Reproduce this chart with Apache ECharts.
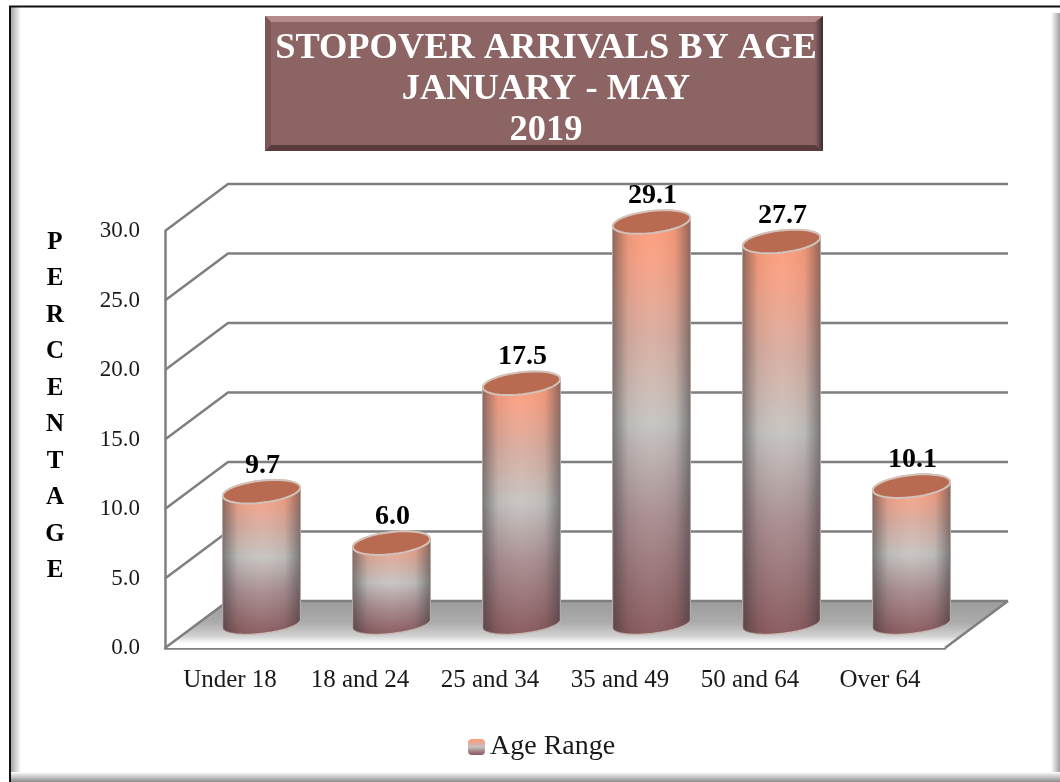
<!DOCTYPE html>
<html>
<head>
<meta charset="utf-8">
<style>html,body{margin:0;padding:0;background:#fff}#chart{width:1060px;height:782px}</style>
<script src="https://cdn.jsdelivr.net/npm/echarts@6/dist/echarts.min.js"></script>
</head>
<body>
<div id="chart"></div>
<script>
var categories = ["Under 18", "18 and 24", "25 and 34", "35 and 49", "50 and 64", "Over 64"];
var values = [9.7, 6.0, 17.5, 29.1, 27.7, 10.1];
var yTicks = [0, 5, 10, 15, 20, 25, 30];
var seriesName = "Age Range";
var titleLines = ["STOPOVER ARRIVALS BY AGE", "JANUARY - MAY", "2019"];
var axisLetters = ["P", "E", "R", "C", "E", "N", "T", "A", "G", "E"];

var FONT = "'Liberation Serif', serif";
// depth of the fake 3d box, in pixels
var DX = 63, DY = -47;

function grad(x, y, x2, y2, stops) {
	return new echarts.graphic.LinearGradient(x, y, x2, y2, stops.map(function(s){
		return {offset: s[0], color: s[1]};
	}));
}
var bodyStops = [[0, "#ff9a75"], [0.12, "#f9a184"], [0.3, "#d9ada0"], [0.5, "#c6c4c1"], [0.72, "#a98d90"], [1, "#87575b"]];
var sideStops = [[0, "rgba(45,45,50,0.5)"], [0.2, "rgba(60,60,60,0.08)"], [0.5, "rgba(255,255,255,0.04)"], [0.8, "rgba(60,60,60,0.08)"], [1, "rgba(45,45,50,0.5)"]];

// points on a tilted ellipse between two angles
function arc(cx, cy, rx, ry, from, to) {
	var tilt = -0.115, pts = [];
	for (var i = 0; i <= 40; i++) {
		var t = from + (to - from) * i / 40;
		var px = rx * Math.cos(t), py = ry * Math.sin(t);
		pts.push([cx + px * Math.cos(tilt) - py * Math.sin(tilt), cy + px * Math.sin(tilt) + py * Math.cos(tilt)]);
	}
	return pts;
}

function renderWall(params, api) {
	var cs = params.coordSys;
	var y = api.coord([0, api.value(1)])[1];
	var x0 = cs.x, x1 = cs.x + cs.width;
	var line = {stroke: "#7f7f7f", lineWidth: 2.5, fill: null};
	var kids = [{
		type: "polyline",
		shape: {points: [[x0, y], [x0 + DX, y + DY], [x1 + DX, y + DY]]},
		style: line
	}];
	if (api.value(1) === 0) {
		kids.unshift({
			type: "polygon",
			shape: {points: [[x0, y], [x0 + DX, y + DY], [x1 + DX, y + DY], [x1, y]]},
			style: {fill: grad(0, 0, 0, 1, [[0, "#9c9c9c"], [0.45, "#ababab"], [0.75, "#d2d2d2"], [0.9, "#ffffff"], [1, "#ffffff"]])}
		});
		kids.push({
			type: "polyline",
			shape: {points: [[x1, y], [x1 + DX, y + DY]]},
			style: line
		});
	}
	return {type: "group", children: kids};
}

function renderBar(params, api) {
	var idx = api.value(0), val = api.value(1);
	var rx = api.size([1, 0])[0] * 0.3;
	var top = api.coord([idx, val]), bottom = api.coord([idx, 0]);
	var cx = top[0] + DX / 2;
	var topY = top[1] + DY / 2 + 2, botY = bottom[1] + DY / 2 - 1;
	var body = arc(cx, botY, rx, 10, Math.PI, 0).concat(arc(cx, topY, rx, 11, 0, -Math.PI));
	return {
		type: "group",
		children: [{
			type: "polygon",
			shape: {points: body},
			style: {fill: grad(0, 0, 0, 1, bodyStops), stroke: "#c9b8b0", lineWidth: 1.5}
		}, {
			type: "polygon",
			shape: {points: body},
			style: {fill: grad(0, 0, 1, 0, sideStops)}
		}, {
			type: "polygon",
			shape: {points: arc(cx, topY, rx, 11, 0, Math.PI * 2)},
			style: {fill: "#b86b50", stroke: "#d2c2ba", lineWidth: 2}
		}, {
			type: "text",
			x: cx + 1,
			y: topY - 26,
			style: {
				text: val.toFixed(1),
				font: "bold 28px " + FONT,
				fill: "#000",
				align: "center",
				verticalAlign: "middle"
			}
		}]
	};
}

var option = {
	backgroundColor: "#fff",
	animation: false,
	title: {
		text: titleLines.join("\n"),
		left: 541,
		top: 23,
		textAlign: "center",
		textStyle: {fontFamily: FONT, fontWeight: "bold", fontSize: 36.4, lineHeight: 41, color: "#fff"}
	},
	legend: {
		data: [seriesName],
		left: 463,
		top: 728,
		itemWidth: 17,
		itemHeight: 16,
		itemGap: 4,
		textStyle: {fontFamily: FONT, fontSize: 28, color: "#1a1a1a"}
	},
	grid: {left: 165, right: 115, top: 231, bottom: 134},
	xAxis: {
		type: "category",
		data: categories,
		axisTick: {show: false},
		axisLine: {lineStyle: {color: "#7f7f7f", width: 2.5}},
		axisLabel: {fontFamily: FONT, fontSize: 25, color: "#1a1a1a", margin: 20}
	},
	yAxis: {
		type: "value",
		min: 0,
		max: 30,
		interval: 5,
		splitLine: {show: false},
		axisTick: {show: false},
		axisLine: {show: true, lineStyle: {color: "#7f7f7f", width: 2.5}},
		axisLabel: {fontFamily: FONT, fontSize: 23, color: "#1a1a1a", margin: 25, lineHeight: 29, verticalAlign: "middle", padding: [6, 0, 0, 0], formatter: function(v){ return v.toFixed(1); }}
	},
	series: [{
		type: "custom",
		name: "walls",
		z: 1,
		silent: true,
		clip: false,
		renderItem: renderWall,
		data: yTicks.map(function(t){ return [0, t]; })
	}, {
		type: "custom",
		name: seriesName,
		z: 3,
		clip: false,
		itemStyle: {color: grad(0, 0, 0, 1, bodyStops)},
		renderItem: renderBar,
		encode: {x: 0, y: 1},
		data: values.map(function(v, i){ return [i, v]; })
	}],
	graphic: [
		// page frame, black on top and left, soft grey on the other sides
		{type: "rect", z: 0, shape: {x: 11, y: 7, width: 10, height: 775}, style: {fill: grad(0, 0, 1, 0, [[0, "#a8a8a8"], [1, "#ffffff"]])}},
		{type: "rect", z: 0, shape: {x: 1051, y: 13, width: 9, height: 769}, style: {fill: grad(0, 0, 1, 0, [[0, "#ffffff"], [1, "#a0a0a0"]])}},
		{type: "rect", z: 0, shape: {x: 11, y: 772, width: 1049, height: 10}, style: {fill: grad(0, 0, 0, 1, [[0, "#ffffff"], [1, "#8c8c8c"]])}},
		{type: "polyline", z: 0, shape: {points: [[10, 782], [10, 6.5], [1060, 6.5]]}, style: {stroke: "#111", lineWidth: 2, fill: null}},
		// title plate with bevel
		{type: "rect", z: 1, shape: {x: 265, y: 16, width: 558, height: 135}, style: {fill: "#8c6464"}},
		{type: "polygon", z: 1, shape: {points: [[265, 16], [823, 16], [817, 22], [271, 22]]}, style: {fill: "#b58a8a"}},
		{type: "polygon", z: 1, shape: {points: [[265, 16], [271, 22], [271, 145], [265, 151]]}, style: {fill: "#7c5558"}},
		{type: "polygon", z: 1, shape: {points: [[823, 16], [823, 151], [815, 145], [815, 22]]}, style: {fill: grad(0, 0, 1, 0, [[0, "#8c6464"], [1, "#3e2b2d"]])}},
		{type: "polygon", z: 1, shape: {points: [[265, 151], [271, 145], [815, 145], [823, 151]]}, style: {fill: "#5a3b3d"}},
		// vertical axis caption
		{type: "text", z: 2, x: 55, y: 224, style: {
			text: axisLetters.join("\n"),
			font: "bold 25px " + FONT,
			lineHeight: 36.5,
			fill: "#000",
			align: "center"
		}}
	]
};

var chart = echarts.init(document.getElementById("chart"));
chart.setOption(option);
</script>
</body>
</html>
